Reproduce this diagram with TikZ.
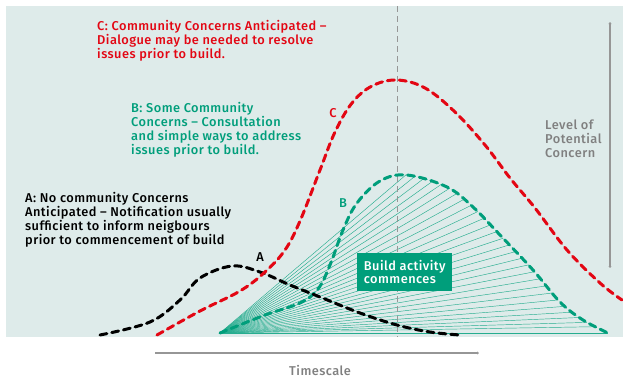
\documentclass[tikz,border=0pt]{standalone}
\usepackage{fontspec}
\setmainfont{Fira Sans}[BoldFont={Fira Sans Medium},LetterSpace=3.5]
\usetikzlibrary{arrows.meta,decorations.markings}
\definecolor{panelbg}{RGB}{222,235,234}
\definecolor{concernred}{RGB}{227,6,19}
\definecolor{concernteal}{RGB}{0,158,123}
\definecolor{axisgrey}{RGB}{150,150,150}
\definecolor{labelgrey}{RGB}{128,128,128}

\begin{document}
\begin{tikzpicture}[x=1pt,y=-1pt,
  curve/.style={line width=3pt,dash pattern=on 7pt off 5pt,line cap=round},
  fan/.style={concernteal!85,line width=0.45pt},
  axis/.style={axisgrey,line width=1.8pt},
  blurb/.style={anchor=north west,align=left,inner sep=0pt,font=\fontsize{12.8}{14}\selectfont\bfseries},
  tag/.style={font=\fontsize{12.8}{14}\selectfont\bfseries}]
\useasboundingbox (0,0) rectangle (623,378);
\fill[panelbg] (6,6) rectangle (623,337);

\coordinate (borigin) at (220,333);
\coordinate (bend) at (608,333);
\path[decoration={markings,
  mark=between positions 0.5 and 0.99 step 0.0175 with {\draw[fan] (0,0) -- (borigin);}},
  decorate]
  plot[smooth,tension=0.6] coordinates {(220,333) (265,315) (300,303) (318,289) (330,265) (343,230) (357,203) (380,181) (407,175) (447,187) (473,207) (500,235) (533,270) (560,302) (583,320) (608,333)};
\draw[fan] (borigin) -- (bend);

\draw[axisgrey,line width=1pt,dash pattern=on 6pt off 4pt] (397,6) -- (397,337);

\draw[curve,concernteal] plot[smooth,tension=0.6] coordinates {(220,333) (265,315) (300,303) (318,289) (330,265) (343,230) (357,203) (380,181) (407,175) (447,187) (473,207) (500,235) (533,270) (560,302) (583,320) (608,333)};
\draw[curve,black] plot[smooth,tension=0.6] coordinates {(100,335) (150,322) (180,300) (200,278) (232,266) (260,272) (290,285) (320,297) (360,313) (397,325) (430,332) (460,335)};
\draw[curve,concernred] plot[smooth,tension=0.6] coordinates {(157,335) (200,311) (240,291) (265,272) (285,250) (300,221) (320,170) (335,132) (352,103) (372,86) (397,80) (425,88) (455,112) (485,145) (510,178) (535,208) (567,250) (600,283) (622,300)};

\node[blurb,text=concernred] (ctext) at (97,20) {C: Community Concerns Anticipated –\\Dialogue may be needed to resolve\\issues prior to build.};
\node[blurb,text=concernteal] (btext) at (131,102) {B: Some Community\\Concerns – Consultation\\and simple ways to address\\issues prior to build.};
\node[blurb,text=black] (atext) at (25,192) {A: No community Concerns\\Anticipated – Notification usually\\sufficient to inform neigbours\\prior to commencement of build};
\node[blurb,text=labelgrey] (leveltext) at (545,120) {Level of\\Potential\\Concern};

\node[tag,text=concernred] (clabel) at (333,113) {C};
\node[tag,text=concernteal] (blabel) at (343,203) {B};
\node[tag,text=black] (alabel) at (260,257) {A};

\node[fill=concernteal,text=white,align=left,anchor=north west,minimum width=95pt,minimum height=38pt,
  inner xsep=6pt,font=\fontsize{12.8}{13.5}\selectfont\bfseries] (buildbox) at (357,253) {Build activity\\commences};

\coordinate (ctop) at (610,22);
\coordinate (cbot) at (610,268);
\draw[axis,{Latex[length=2pt,width=3.5pt]}-{Latex[length=2pt,width=3.5pt]}] (ctop) -- (cbot);
\coordinate (tstart) at (155,353);
\coordinate (tend) at (479,353);
\draw[axis,-{Latex[length=2pt,width=3.5pt]}] (tstart) -- (tend);
\node[text=labelgrey,font=\fontsize{12.8}{14}\selectfont\bfseries] (timetext) at (320,370) {Timescale};
\end{tikzpicture}
\end{document}
